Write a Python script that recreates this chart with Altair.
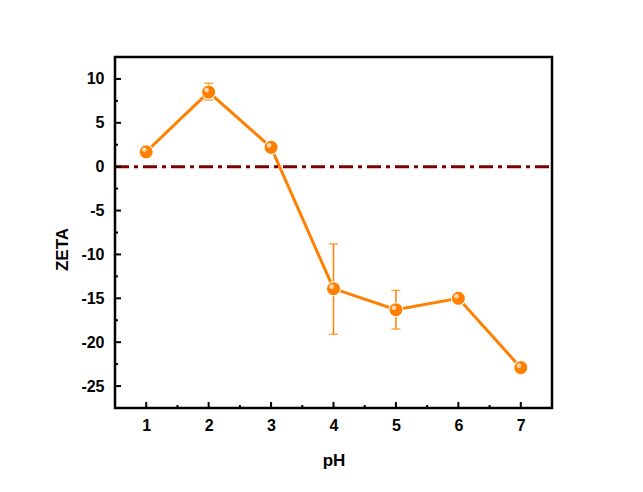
import altair as alt
import pandas as pd

ph = [1, 2, 3, 4, 5, 6, 7]
zeta = [1.7, 8.5, 2.2, -13.9, -16.3, -15.0, -22.9]
err_lo = [1.4, 7.6, 1.7, -19.1, -18.5, -15.3, -23.1]
err_hi = [2.0, 9.5, 2.7, -8.8, -14.1, -14.7, -22.7]
x_major = [1, 2, 3, 4, 5, 6, 7]
x_minor = [1.5, 2.5, 3.5, 4.5, 5.5, 6.5]
y_major = [-25, -20, -15, -10, -5, 0, 5, 10]
y_minor = [-22.5, -17.5, -12.5, -7.5, -2.5, 2.5, 7.5]

df = pd.DataFrame({"pH": ph, "ZETA": zeta, "lo": err_lo, "hi": err_hi})
df_err = df[[True, True, True, True, True, False, False]]

ORANGE = "#FF8000"
FONT = "Liberation Sans"

xs = alt.Scale(domain=[0.5, 7.5], nice=False, zero=False)
ys = alt.Scale(domain=[-27.5, 12.5], nice=False, zero=False)

xax = alt.Axis(values=x_major, tickSize=0, domain=False, grid=False, labelPadding=9,
               labelExpr="'' + datum.value",
               labelFont=FONT, labelFontSize=16, labelFontWeight="bold", labelColor="black", title="pH",
               titleFont=FONT, titleFontSize=17, titleFontWeight="bold", titlePadding=19, titleColor="black")
yax = alt.Axis(values=y_major, tickSize=0, domain=False, grid=False, labelPadding=11,
               labelExpr="'' + datum.value",
               labelFont=FONT, labelFontSize=16, labelFontWeight="bold", labelColor="black", title="ZETA",
               titleFont=FONT, titleFontSize=17, titleFontWeight="bold", titlePadding=9, titleColor="black",
               titleY=192)

base = alt.Chart(df)

line = base.mark_line(color=ORANGE, strokeWidth=3).encode(
    x=alt.X("pH:Q", scale=xs, axis=xax),
    y=alt.Y("ZETA:Q", scale=ys, axis=yax),
)

zero = alt.Chart(pd.DataFrame({"z": [0]})).mark_rule(
    color="#7F0000", strokeWidth=3, strokeDash=[14, 5, 4, 5]
).encode(y=alt.Y("z:Q", scale=ys), x=alt.value(0), x2=alt.value(437))

errbar = alt.Chart(df_err).mark_rule(color=ORANGE, strokeWidth=1.5).encode(
    x=alt.X("pH:Q", scale=xs), y=alt.Y("lo:Q", scale=ys), y2="hi:Q"
)
cap_lo = alt.Chart(df_err).mark_tick(color=ORANGE, orient="horizontal", size=9, thickness=1.5).encode(
    x=alt.X("pH:Q", scale=xs), y=alt.Y("lo:Q", scale=ys)
)
cap_hi = alt.Chart(df_err).mark_tick(color=ORANGE, orient="horizontal", size=9, thickness=1.5).encode(
    x=alt.X("pH:Q", scale=xs), y=alt.Y("hi:Q", scale=ys)
)

pts = base.mark_point(filled=True, shape="circle", size=170, color=ORANGE, opacity=1,
                      stroke="white", strokeWidth=2).encode(
    x=alt.X("pH:Q", scale=xs), y=alt.Y("ZETA:Q", scale=ys)
)
pts_inner = base.mark_point(filled=True, shape="circle", size=170, color=ORANGE, opacity=1).encode(
    x=alt.X("pH:Q", scale=xs), y=alt.Y("ZETA:Q", scale=ys)
)
hl = base.mark_point(filled=True, shape="circle", size=22, color="#FFD9B0", opacity=1,
                     xOffset=-2, yOffset=-2).encode(
    x=alt.X("pH:Q", scale=xs), y=alt.Y("ZETA:Q", scale=ys)
)

dfxm = pd.DataFrame({"v": x_major})
dfxn = pd.DataFrame({"v": x_minor})
dfym = pd.DataFrame({"v": y_major})
dfyn = pd.DataFrame({"v": y_minor})

xt_major = alt.Chart(dfxm).mark_rule(color="black", strokeWidth=2).encode(
    x=alt.X("v:Q", scale=xs), y=alt.value(351), y2=alt.value(345))
xt_minor = alt.Chart(dfxn).mark_rule(color="black", strokeWidth=2).encode(
    x=alt.X("v:Q", scale=xs), y=alt.value(351), y2=alt.value(348))
yt_major = alt.Chart(dfym).mark_rule(color="black", strokeWidth=2).encode(
    y=alt.Y("v:Q", scale=ys), x=alt.value(0), x2=alt.value(6))
yt_minor = alt.Chart(dfyn).mark_rule(color="black", strokeWidth=2).encode(
    y=alt.Y("v:Q", scale=ys), x=alt.value(0), x2=alt.value(3))

chart = alt.layer(
    line, zero, errbar, cap_lo, cap_hi, pts, pts_inner, hl,
    xt_major, xt_minor, yt_major, yt_minor
).properties(
    width=437, height=351,
    autosize=alt.AutoSizeParams(type="none"),
    padding={"left": 107, "top": 49, "right": 80, "bottom": 76},
    background="white",
).configure_view(stroke="black", strokeWidth=2.5)

chart.save("out.html", embed_options={"renderer": "svg", "actions": False})
